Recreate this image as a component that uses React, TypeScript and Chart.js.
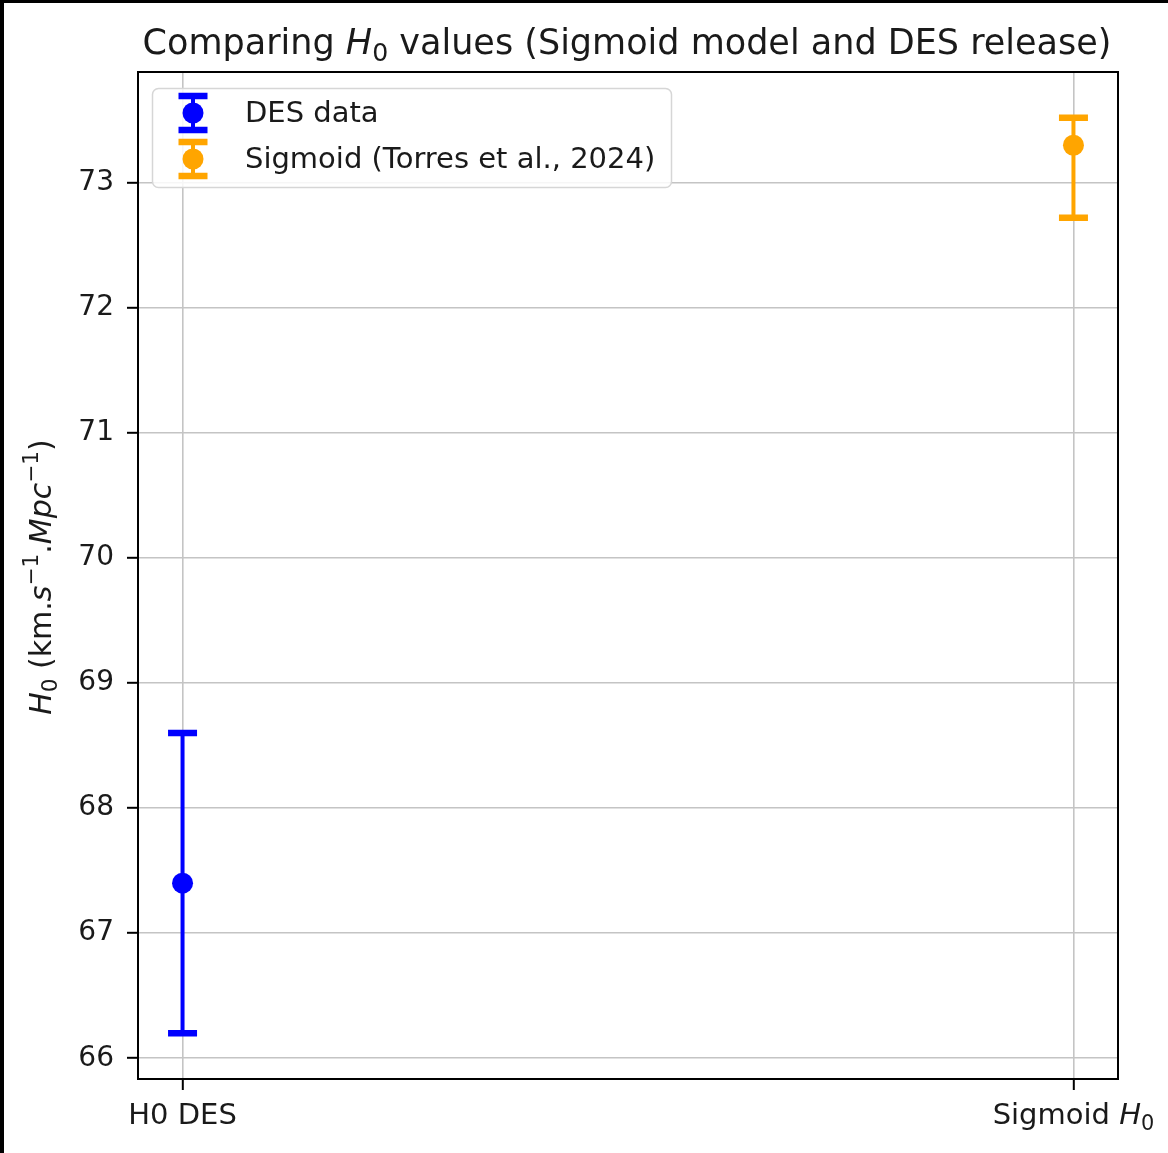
import { useEffect, useRef } from 'react';
import { Chart, registerables } from 'chart.js';

Chart.register(...registerables);

// ---- data ----
const categories = ['H0 DES', 'Sigmoid H0'];
const seriesLabels = ['DES data', 'Sigmoid (Torres et al., 2024)'];
const h0Values = [67.4, 73.3];
const errLower = [1.2, 0.58];
const errUpper = [1.2, 0.22];
const seriesColors = ['#0000ff', '#ffa500'];
const yTickValues = [66, 67, 68, 69, 70, 71, 72, 73];
const xPositions = [0, 1];

type Seg = { t: string; it?: boolean; sub?: boolean; sup?: boolean };

const titleSegs: Seg[] = [
  { t: 'Comparing ' },
  { t: 'H', it: true },
  { t: '0', sub: true },
  { t: ' values (Sigmoid model and DES release)' },
];
const yLabelSegs: Seg[] = [
  { t: 'H', it: true },
  { t: '0', sub: true },
  { t: ' (km.' },
  { t: 's', it: true },
  { t: '\u22121', sup: true },
  { t: '.' },
  { t: 'Mpc', it: true },
  { t: '\u22121', sup: true },
  { t: ')' },
];
const xLabelSegs: Seg[][] = [
  [{ t: categories[0] }],
  [{ t: 'Sigmoid ' }, { t: 'H', it: true }, { t: '0', sub: true }],
];

const FONT = "'DejaVu Sans', sans-serif";
const W = 1168;
const H = 1153;

function segFont(s: Seg, size: number) {
  const sz = s.sub || s.sup ? size * 0.72 : size;
  return `${s.it ? 'italic ' : ''}${sz}px ${FONT}`;
}
function measureRich(ctx: CanvasRenderingContext2D, segs: Seg[], size: number) {
  let w = 0;
  for (const s of segs) {
    ctx.font = segFont(s, size);
    w += ctx.measureText(s.t).width;
  }
  return w;
}
function drawRich(
  ctx: CanvasRenderingContext2D,
  segs: Seg[],
  x: number,
  y: number,
  size: number,
  align: 'left' | 'center' | 'right',
  color: string
) {
  const w = measureRich(ctx, segs, size);
  let cx = align === 'center' ? x - w / 2 : align === 'right' ? x - w : x;
  ctx.fillStyle = color;
  ctx.textBaseline = 'alphabetic';
  ctx.textAlign = 'left';
  for (const s of segs) {
    ctx.font = segFont(s, size);
    const dy = s.sub ? size * 0.2 : s.sup ? -size * 0.42 : 0;
    ctx.fillText(s.t, cx, y + dy);
    cx += ctx.measureText(s.t).width;
  }
}

function drawErrorGlyph(
  ctx: CanvasRenderingContext2D,
  x: number,
  yTop: number,
  yBot: number,
  yMid: number,
  color: string,
  withDot: boolean
) {
  ctx.save();
  ctx.strokeStyle = color;
  ctx.lineCap = 'butt';
  ctx.lineWidth = 4;
  ctx.beginPath();
  ctx.moveTo(x, yTop);
  ctx.lineTo(x, yBot);
  ctx.stroke();
  ctx.lineWidth = 6.5;
  ctx.beginPath();
  ctx.moveTo(x - 14.5, yTop);
  ctx.lineTo(x + 14.5, yTop);
  ctx.moveTo(x - 14.5, yBot);
  ctx.lineTo(x + 14.5, yBot);
  ctx.stroke();
  if (withDot) {
    ctx.fillStyle = color;
    ctx.beginPath();
    ctx.arc(x, yMid, 10.5, 0, Math.PI * 2);
    ctx.fill();
  }
  ctx.restore();
}

const decoPlugin = {
  id: 'deco',
  beforeDraw(chart: any) {
    const ctx = chart.ctx as CanvasRenderingContext2D;
    ctx.save();
    ctx.fillStyle = '#ffffff';
    ctx.fillRect(0, 0, W, H);
    ctx.fillStyle = '#000000';
    ctx.fillRect(0, 0, W, 3);
    ctx.fillRect(0, 0, 4, H);
    ctx.restore();
  },
  beforeDatasetsDraw(chart: any) {
    const ctx = chart.ctx as CanvasRenderingContext2D;
    const a = chart.chartArea;
    ctx.save();
    ctx.strokeStyle = '#000';
    ctx.lineWidth = 2;
    ctx.strokeRect(a.left, a.top, a.right - a.left, a.bottom - a.top);
    ctx.restore();
    const xs = chart.scales.x;
    const ys = chart.scales.y;
    for (let i = 0; i < h0Values.length; i++) {
      const x = xs.getPixelForValue(xPositions[i]);
      const yTop = ys.getPixelForValue(h0Values[i] + errUpper[i]);
      const yBot = ys.getPixelForValue(h0Values[i] - errLower[i]);
      drawErrorGlyph(ctx, x, yTop, yBot, 0, seriesColors[i], false);
    }
  },
  afterDraw(chart: any) {
    const ctx = chart.ctx as CanvasRenderingContext2D;
    const a = chart.chartArea;
    const xs = chart.scales.x;
    // title
    drawRich(ctx, titleSegs, (a.left + a.right) / 2 - 1, 54, 35, 'center', '#1a1a1a');
    // x tick labels
    for (let i = 0; i < xLabelSegs.length; i++) {
      drawRich(ctx, xLabelSegs[i], xs.getPixelForValue(xPositions[i]), 1124, 29, 'center', '#1a1a1a');
    }
    // y label
    ctx.save();
    ctx.translate(51, 577);
    ctx.rotate(-Math.PI / 2);
    drawRich(ctx, yLabelSegs, 0, 0, 30, 'center', '#1a1a1a');
    ctx.restore();
    // legend
    const lx = 152, ly = 88, lw = 519, lh = 99;
    ctx.save();
    ctx.beginPath();
    ctx.roundRect(lx + 0.5, ly + 0.5, lw, lh, 6);
    ctx.fillStyle = 'rgba(255,255,255,0.85)';
    ctx.fill();
    ctx.strokeStyle = '#d6d6d6';
    ctx.lineWidth = 1.5;
    ctx.stroke();
    ctx.restore();
    const rows = [113, 159];
    for (let i = 0; i < seriesLabels.length; i++) {
      const cy = rows[i];
      drawErrorGlyph(ctx, 193, cy - 17, cy + 17, cy, seriesColors[i], true);
      ctx.save();
      ctx.font = `29px ${FONT}`;
      ctx.fillStyle = '#1a1a1a';
      ctx.textAlign = 'left';
      ctx.textBaseline = 'middle';
      ctx.fillText(seriesLabels[i], 245, cy + 1);
      ctx.restore();
    }
  },
};

export default function App() {
  const ref = useRef<HTMLCanvasElement | null>(null);
  useEffect(() => {
    if (!ref.current) return;
    const lo = Math.min(...h0Values.map((v, i) => v - errLower[i]));
    const hi = Math.max(...h0Values.map((v, i) => v + errUpper[i]));
    const m = (hi - lo) * 0.05;
    const chart = new Chart(ref.current, {
      type: 'scatter',
      data: {
        datasets: h0Values.map((v, i) => ({
          label: seriesLabels[i],
          data: [{ x: xPositions[i], y: v }],
          pointRadius: 10.5,
          pointHoverRadius: 10.5,
          pointBackgroundColor: seriesColors[i],
          pointBorderWidth: 0,
          borderColor: seriesColors[i],
        })),
      },
      options: {
        animation: false,
        responsive: false,
        devicePixelRatio: 1,
        events: [],
        layout: { padding: { top: 72, right: 50, left: 0, bottom: 0 } },
        plugins: {
          legend: { display: false },
          tooltip: { enabled: false },
          title: { display: false },
        },
        scales: {
          x: {
            type: 'linear',
            min: -0.05,
            max: 1.05,
            afterBuildTicks: (s: any) => {
              s.ticks = xPositions.map((v) => ({ value: v }));
            },
            afterFit: (s: any) => {
              s.height = H - 1079;
            },
            ticks: { display: false },
            grid: {
              color: '#c4c4c4',
              lineWidth: 1.6,
              tickColor: '#000',
              tickLength: 11,
              tickWidth: 2,
            },
            border: { display: true, color: '#000', width: 2 },
          },
          y: {
            type: 'linear',
            min: lo - m,
            max: hi + m,
            afterBuildTicks: (s: any) => {
              s.ticks = yTickValues.map((v) => ({ value: v }));
            },
            afterFit: (s: any) => {
              s.width = 138;
            },
            ticks: {
              color: '#1a1a1a',
              padding: 13,
              font: { family: FONT, size: 28 },
              callback: (v: any) => String(v),
            },
            grid: {
              color: '#c4c4c4',
              lineWidth: 1.6,
              tickColor: '#000',
              tickLength: 11,
              tickWidth: 2,
            },
            border: { display: true, color: '#000', width: 2 },
          },
        },
      },
      plugins: [decoPlugin],
    });
    return () => chart.destroy();
  }, []);
  return (
    <canvas
      ref={ref}
      width={W}
      height={H}
      style={{ position: 'absolute', left: 0, top: 0, width: W, height: H }}
    />
  );
}
